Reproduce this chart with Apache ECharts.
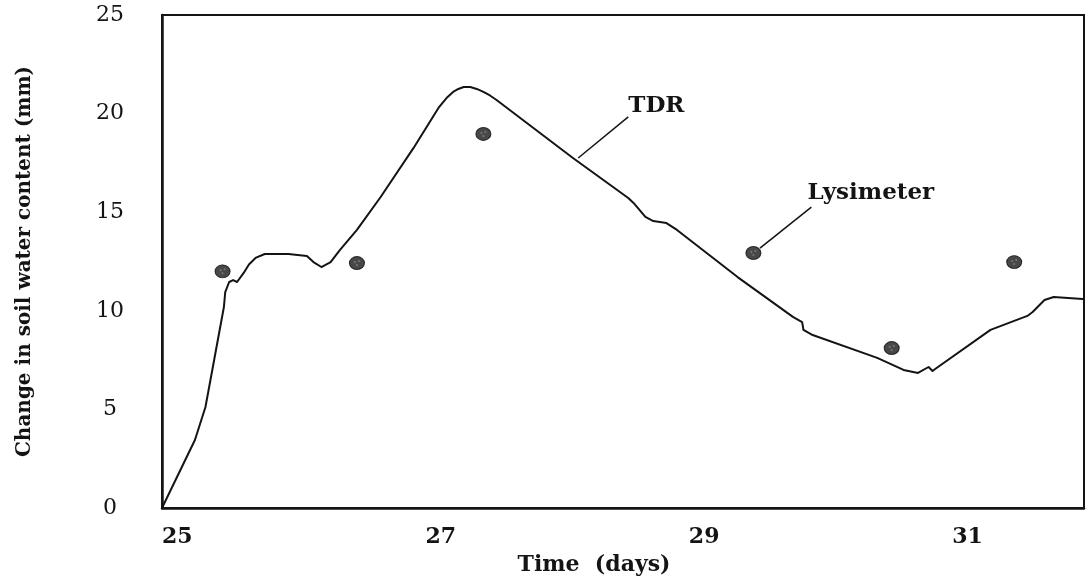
<!DOCTYPE html>
<html>
<head>
<meta charset="utf-8">
<script src="https://cdn.jsdelivr.net/npm/echarts@6/dist/echarts.min.js"></script>
<style>
  html, body { margin: 0; padding: 0; background: #fff; }
  #chart { width: 1088px; height: 581px; }
</style>
</head>
<body>
<div id="chart"></div>
<script>
// TDR trace: time (days) and change in soil water content (mm)
const tdrDays = [25.00, 25.25, 25.33, 25.40, 25.47, 25.48, 25.51, 25.54, 25.57, 25.62,
                 25.66, 25.71, 25.78, 25.96, 26.10, 26.15, 26.21, 26.28, 26.35, 26.48,
                 26.66, 26.91, 27.10, 27.16, 27.21, 27.25, 27.29, 27.34, 27.39, 27.44,
                 27.49, 27.54, 27.79, 28.12, 28.54, 28.58, 28.67, 28.73, 28.83, 28.91,
                 29.37, 29.79, 29.86, 29.87, 29.94, 30.43, 30.63, 30.74, 30.82, 30.85,
                 30.87, 31.29, 31.57, 31.61, 31.70, 31.77, 31.99];
const tdrValues = [0.0, 3.45, 5.12, 7.66, 10.19, 10.95, 11.46, 11.56, 11.46, 11.92,
                   12.35, 12.68, 12.88, 12.88, 12.78, 12.47, 12.22, 12.47, 13.08, 14.10,
                   15.77, 18.26, 20.30, 20.79, 21.10, 21.25, 21.35, 21.35, 21.25, 21.10,
                   20.92, 20.69, 19.42, 17.75, 15.72, 15.47, 14.76, 14.55, 14.45, 14.10,
                   11.71, 9.69, 9.43, 9.03, 8.77, 7.61, 7.00, 6.85, 7.15, 6.95,
                   7.05, 9.03, 9.74, 9.94, 10.55, 10.70, 10.60];

// Lysimeter measurements
const lysDays = [25.46, 26.48, 27.44, 29.49, 30.54, 31.47];
const lysValues = [12.0, 12.42, 18.97, 12.93, 8.11, 12.47];

// Tick labels shown on each axis
const xTickLabels = [25, 27, 29, 31];
const yTickLabels = [0, 5, 10, 15, 20, 25];

// Callout labels: text, text anchor, leader start, leader end (data units)
const calloutText = ['TDR', 'Lysimeter'];
const calloutAnchor = [[28.54, 20.38], [29.90, 15.97]];
const leaderFrom = [[28.16, 17.75], [29.54, 13.18]];
const leaderTo = [[28.54, 19.83], [29.93, 15.26]];

const FONT = 'DejaVu Serif';
const INK = '#141414';

const chart = echarts.init(document.getElementById('chart'), null, { renderer: 'canvas' });

chart.setOption({
  animation: false,
  backgroundColor: '#ffffff',
  grid: {
    left: 162, right: 4, top: 15, bottom: 73,
    show: true, borderColor: INK, borderWidth: 2, backgroundColor: 'transparent'
  },
  xAxis: {
    type: 'value',
    min: 25, max: 32, interval: 1,
    name: 'Time  (days)',
    nameLocation: 'middle',
    nameGap: 46,
    nameTextStyle: { fontFamily: FONT, fontWeight: 'bold', fontSize: 22, color: INK, padding: [0, 58, 0, 0] },
    axisLine: { show: true, lineStyle: { color: INK, width: 2.5 } },
    axisTick: { show: false },
    splitLine: { show: false },
    axisLabel: {
      formatter: v => (xTickLabels.indexOf(v) >= 0 ? String(v) : ''),
      align: 'left',
      margin: 18,
      fontFamily: FONT, fontWeight: 'bold', fontSize: 22, color: INK
    }
  },
  yAxis: {
    type: 'value',
    min: 0, max: 25, interval: 5,
    name: 'Change in soil water content (mm)',
    nameLocation: 'middle',
    nameRotate: 90,
    nameGap: 127,
    nameTextStyle: { fontFamily: FONT, fontWeight: 'bold', fontSize: 20, color: INK },
    axisLine: { show: true, lineStyle: { color: INK, width: 2.5 } },
    axisTick: { show: false },
    splitLine: { show: false },
    axisLabel: {
      formatter: v => (yTickLabels.indexOf(v) >= 0 ? String(v) : ''),
      align: 'center',
      margin: 52,
      fontFamily: FONT, fontSize: 22, color: INK
    }
  },
  series: [
    {
      name: 'TDR',
      type: 'line',
      data: tdrDays.map((d, i) => [d, tdrValues[i]]),
      showSymbol: false,
      smooth: false,
      lineStyle: { color: INK, width: 2, join: 'round', cap: 'round' },
      z: 3
    },
    {
      name: 'Lysimeter',
      type: 'scatter',
      data: lysDays.map((d, i) => [d, lysValues[i]]),
      symbol: 'circle',
      symbolSize: [15, 13],
      itemStyle: { color: '#1a1a1a', borderColor: '#0c0c0c', borderWidth: 1 },
      z: 4
    },
    {
      // light speckles inside each lysimeter dot
      name: 'LysimeterSpeckle',
      type: 'scatter',
      data: lysDays.map((d, i) => [d, lysValues[i]]),
      symbol: 'path://M2,3a1,1 0 1,0 0.01,0M6,2a1,1 0 1,0 0.01,0M4,6a1,1 0 1,0 0.01,0',
      symbolSize: [6, 6],
      itemStyle: { color: 'rgba(150,150,150,0.8)' },
      silent: true,
      z: 5
    }
  ]
});

// Callout text and leader lines, positioned through the chart's coordinate system
const toPx = p => chart.convertToPixel({ gridIndex: 0 }, p);
const graphics = [];
calloutText.forEach((t, i) => {
  const a = toPx(calloutAnchor[i]);
  const f = toPx(leaderFrom[i]);
  const e = toPx(leaderTo[i]);
  graphics.push({
    type: 'line',
    shape: { x1: f[0], y1: f[1], x2: e[0], y2: e[1] },
    style: { stroke: INK, lineWidth: 1.5 },
    z: 10
  });
  graphics.push({
    type: 'text',
    x: a[0], y: a[1],
    style: {
      text: t,
      fill: INK,
      font: 'bold 23px "' + FONT + '"',
      textAlign: 'left',
      textVerticalAlign: 'middle'
    },
    z: 10
  });
});
chart.setOption({ graphic: graphics });
</script>
</body>
</html>
